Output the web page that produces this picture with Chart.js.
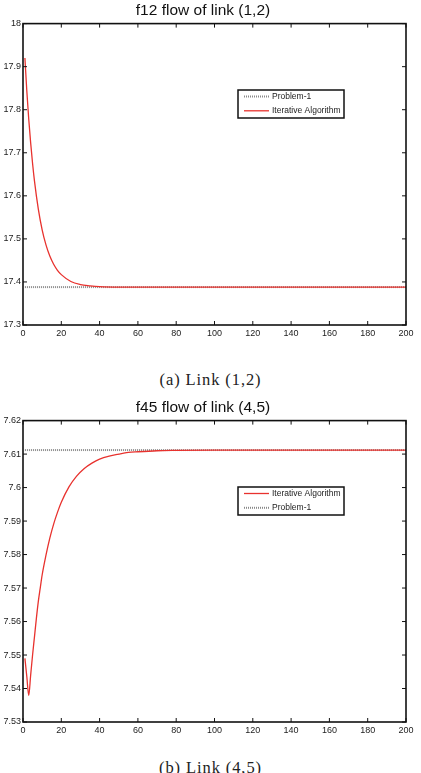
<!DOCTYPE html>
<html>
<head>
<meta charset="utf-8">
<script src="https://cdn.jsdelivr.net/npm/chart.js@4.4.0/dist/chart.umd.min.js"></script>
<style>
body { margin: 0; background: #fff; width: 421px; height: 773px; position: relative; overflow: hidden; }
.grafico { position: absolute; left: 0; width: 421px; height: 345px; }
.legenda-fig { position: absolute; left: 0; width: 421px; text-align: center; font-family: "Liberation Serif", serif; font-size: 16.5px; color: #222; letter-spacing: 0.9px; }
</style>
</head>
<body>
<div class="grafico" style="top:0"><canvas id="fluxo12"></canvas></div>
<div class="legenda-fig" style="top:370px">(a) Link (1,2)</div>
<div class="grafico" style="top:397px"><canvas id="fluxo45"></canvas></div>
<div class="legenda-fig" style="top:758px">(b) Link (4,5)</div>
<script>
// Link (1,2)
const iteracoes12 = [1, 2, 3, 4, 5, 6, 8, 10, 12, 14, 16, 18, 20, 25, 30, 35, 40, 50, 60, 80, 100, 150, 200];
const algoritmo12 = [17.920, 17.843, 17.778, 17.723, 17.675, 17.634, 17.569, 17.521, 17.486, 17.460, 17.441, 17.427, 17.417, 17.401, 17.394, 17.391, 17.389, 17.388, 17.388, 17.388, 17.388, 17.388, 17.388];
const problema12X = [1, 200];
const problema12 = [17.388, 17.388];

// Link (4,5)
const iteracoes45 = [1, 2, 3, 4, 5, 6, 7, 8, 9, 10, 12, 14, 16, 18, 20, 24, 28, 32, 36, 40, 45, 50, 55, 60, 70, 80, 100, 150, 200];
const algoritmo45 = [7.549, 7.5435, 7.5379, 7.544, 7.550, 7.5555, 7.561, 7.566, 7.570, 7.5739, 7.5798, 7.5849, 7.5891, 7.5926, 7.5956, 7.6002, 7.6034, 7.6057, 7.6073, 7.6085, 7.6094, 7.6100, 7.6105, 7.6107, 7.6110, 7.6111, 7.6112, 7.6112, 7.6112];
const problema45X = [1, 200];
const problema45 = [7.6112, 7.6112];

const ticksX = [0, 20, 40, 60, 80, 100, 120, 140, 160, 180, 200];

const pontos = (xs, ys) => xs.map((x, i) => ({ x: x, y: ys[i] }));

// moldura, ticks para dentro e legenda dentro da area
const molduraPlugin = {
    id: 'moldura',
    afterDraw(chart, args, opts) {
        const { ctx, chartArea: a, scales } = chart;
        ctx.save();
        ctx.strokeStyle = '#111';
        ctx.lineWidth = 1;
        const linha = (x1, y1, x2, y2) => { ctx.beginPath(); ctx.moveTo(x1, y1); ctx.lineTo(x2, y2); ctx.stroke(); };
        scales.x.ticks.forEach(t => {
            const px = scales.x.getPixelForValue(t.value);
            linha(px, a.bottom, px, a.bottom - 4);
            linha(px, a.top, px, a.top + 4);
        });
        scales.y.ticks.forEach(t => {
            const py = scales.y.getPixelForValue(t.value);
            linha(a.left, py, a.left + 4, py);
            linha(a.right, py, a.right - 4, py);
        });
        ctx.lineWidth = 1.6;
        ctx.strokeRect(a.left, a.top, a.width, a.height);

        // legenda
        const L = opts.caixa;
        ctx.fillStyle = '#fff';
        ctx.fillRect(L.x, L.y, L.w, L.h);
        ctx.lineWidth = 1.5;
        ctx.strokeStyle = '#111';
        ctx.strokeRect(L.x, L.y, L.w, L.h);
        ctx.font = '8.5px "Liberation Sans", Arial, sans-serif';
        ctx.textBaseline = 'middle';
        chart.data.datasets.forEach((ds, i) => {
            const y = L.y + 6.5 + i * 14.3;
            ctx.strokeStyle = ds.borderColor;
            ctx.lineWidth = ds.borderWidth;
            ctx.setLineDash(ds.borderDash || []);
            linha(L.x + 6, y, L.x + 31, y);
            ctx.setLineDash([]);
            ctx.fillStyle = '#222';
            ctx.fillText(ds.label, L.x + 34, y);
        });
        ctx.restore();
    }
};

const fonteTick = { family: '"Liberation Sans", Arial, sans-serif', size: 9 };

function criarGrafico(id, titulo, datasets, yMin, yMax, passoY) {
    new Chart(document.getElementById(id).getContext('2d'), {
        type: 'line',
        data: { datasets: datasets },
        plugins: [molduraPlugin],
        options: {
            responsive: true,
            maintainAspectRatio: false,
            animation: false,
            layout: { padding: { left: 0, right: 15, top: 0, bottom: 0 } },
            elements: { point: { radius: 0 } },
            plugins: {
                legend: { display: false },
                tooltip: { enabled: false },
                title: {
                    display: true,
                    text: titulo,
                    color: '#111',
                    font: { family: '"Liberation Sans", Arial, sans-serif', size: 15.5, weight: 'normal' },
                    padding: { top: 1, bottom: 4 }
                },
                moldura: { caixa: { x: 238, y: 90, w: 106, h: 28 } }
            },
            scales: {
                x: {
                    type: 'linear',
                    min: 0,
                    max: 200,
                    grid: { display: false, drawTicks: false },
                    border: { display: false },
                    afterBuildTicks: s => { s.ticks = ticksX.map(v => ({ value: v })); },
                    afterFit: s => { s.height = 20; },
                    ticks: { color: '#222', font: fonteTick, padding: 3, maxRotation: 0 }
                },
                y: {
                    min: yMin,
                    max: yMax,
                    grid: { display: false, drawTicks: false },
                    border: { display: false },
                    afterFit: s => { s.width = 23; },
                    ticks: {
                        stepSize: passoY,
                        color: '#222',
                        font: fonteTick,
                        padding: 2,
                        callback: v => String(+v.toFixed(3))
                    }
                }
            }
        }
    });
}

const vermelho = { borderColor: '#e8322e', borderWidth: 1.3, cubicInterpolationMode: 'monotone', fill: false, order: 0 };
const cinza = { borderColor: '#8a8a8a', borderWidth: 2, borderDash: [1, 1], fill: false, order: 1 };

criarGrafico('fluxo12', 'f12 flow of link (1,2)', [
    Object.assign({ label: 'Problem-1', data: pontos(problema12X, problema12) }, cinza),
    Object.assign({ label: 'Iterative Algorithm', data: pontos(iteracoes12, algoritmo12) }, vermelho)
], 17.3, 18, 0.1);

criarGrafico('fluxo45', 'f45 flow of link (4,5)', [
    Object.assign({ label: 'Iterative Algorithm', data: pontos(iteracoes45, algoritmo45) }, vermelho),
    Object.assign({ label: 'Problem-1', data: pontos(problema45X, problema45) }, cinza)
], 7.53, 7.62, 0.01);
</script>
</body>
</html>
